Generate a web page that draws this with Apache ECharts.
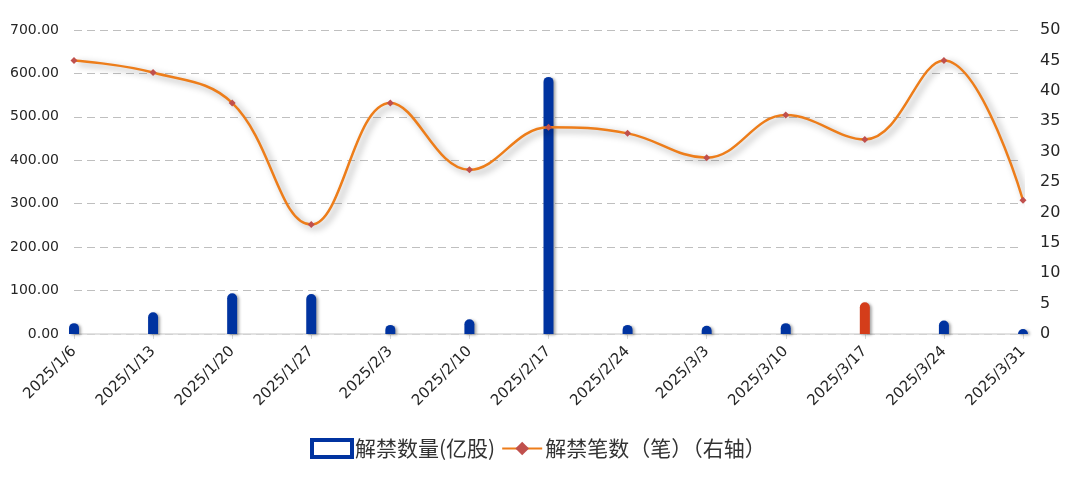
<!DOCTYPE html>
<html>
<head>
<meta charset="utf-8">
<script src="https://cdn.jsdelivr.net/npm/echarts@6/dist/echarts.min.js"></script>
<style>
  html, body { margin: 0; padding: 0; background: #fff; }
  #chart { width: 1080px; height: 482px; }
</style>
</head>
<body>
<div id="chart"></div>
<script>
// 周度解禁数据
const weeks = ["2025/1/6", "2025/1/13", "2025/1/20", "2025/1/27", "2025/2/3", "2025/2/10", "2025/2/17",
  "2025/2/24", "2025/3/3", "2025/3/10", "2025/3/17", "2025/3/24", "2025/3/31"];
const shares = [25, 50, 94, 92, 21, 34, 592, 21, 19, 25, 73, 31, 11.5];   // 解禁数量(亿股)
const deals = [45, 43, 38, 18, 38, 27, 34, 33, 29, 36, 32, 45, 22];       // 解禁笔数（笔）
const currentWeek = "2025/3/17";

const blue = "#0033a0";
const red = "#d43d1a";
const fontFamily = "'DejaVu Sans', 'Noto Sans CJK SC', sans-serif";

const chart = echarts.init(document.getElementById("chart"));

const barData = shares.map((v, i) => {
  if (weeks[i] === currentWeek) {
    return { value: v, itemStyle: { color: red } };
  }
  return v;
});

const option = {
  animation: false,
  textStyle: { fontFamily: fontFamily },
  grid: {
    left: 74,
    right: 57,
    top: 30,
    bottom: 148
  },
  legend: {
    top: 433,
    left: 305,
    itemWidth: 40,
    itemHeight: 17,
    itemGap: 6,
    textStyle: {
      fontSize: 21,
      color: "#333",
      fontFamily: "'Noto Sans CJK SC', sans-serif",
      padding: [0, 0, 0, -2]
    },
    data: [
      {
        name: "解禁数量(亿股)",
        icon: "rect",
        itemStyle: { color: "#fff", borderColor: blue, borderWidth: 4, shadowBlur: 0 }
      },
      { name: "解禁笔数（笔）（右轴）" }
    ]
  },
  xAxis: {
    type: "category",
    data: weeks,
    boundaryGap: false,
    axisLine: { lineStyle: { color: "#d9d9d9", width: 1.5 } },
    axisTick: { show: true, lineStyle: { color: "#d9d9d9" }, length: 5 },
    axisLabel: {
      rotate: 45,
      interval: 0,
      fontSize: 15,
      color: "#262626",
      margin: 15
    }
  },
  yAxis: [
    {
      type: "value",
      min: 0,
      max: 700,
      interval: 100,
      axisLine: { show: false },
      axisTick: { show: false },
      axisLabel: {
        fontSize: 14,
        color: "#262626",
        margin: 15,
        formatter: v => v.toFixed(2)
      },
      splitLine: {
        show: true,
        lineStyle: { color: "#bfbfbf", type: [8, 5], width: 1.2 }
      }
    },
    {
      type: "value",
      min: 0,
      max: 50,
      interval: 5,
      axisLine: { show: false },
      axisTick: { show: false },
      axisLabel: { fontSize: 16, color: "#262626", margin: 17 },
      splitLine: { show: false }
    }
  ],
  series: [
    {
      name: "解禁数量(亿股)",
      type: "bar",
      yAxisIndex: 0,
      data: barData,
      barWidth: 10,
      itemStyle: {
        color: blue,
        borderRadius: [5, 5, 0, 0],
        shadowColor: "rgba(0,0,0,0.35)",
        shadowBlur: 3,
        shadowOffsetX: 2,
        shadowOffsetY: 1
      }
    },
    {
      name: "解禁笔数（笔）（右轴）",
      type: "line",
      yAxisIndex: 1,
      data: deals,
      smooth: 0.4,
      symbol: "diamond",
      symbolSize: 7,
      showAllSymbol: true,
      itemStyle: { color: "#c0504d" },
      lineStyle: {
        color: "#ed7d1a",
        width: 2.5,
        shadowColor: "rgba(0,0,0,0.4)",
        shadowBlur: 7,
        shadowOffsetX: 4,
        shadowOffsetY: 3
      },
      z: 3
    }
  ]
};

chart.setOption(option);
</script>
</body>
</html>
